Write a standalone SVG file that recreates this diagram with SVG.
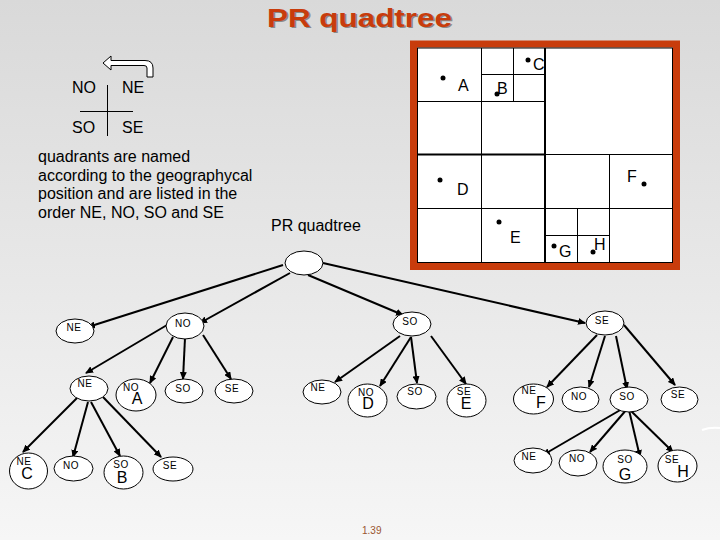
<svg xmlns="http://www.w3.org/2000/svg" width="720" height="540" viewBox="0 0 720 540">
<defs>
<linearGradient id="bg" x1="0" y1="0" x2="0" y2="1">
<stop offset="0" stop-color="#d9d9d9"/>
<stop offset="1" stop-color="#f6f6f6"/>
</linearGradient>
<marker id="ah" markerUnits="userSpaceOnUse" markerWidth="8" markerHeight="7" refX="7" refY="3.5" orient="auto">
<path d="M0,0 L8,3.5 L0,7 z" fill="#000"/>
</marker>
</defs>
<style>
text{font-family:"Liberation Sans",Arial,sans-serif;fill:#000}
.t{font-size:16px}
.s{font-size:10px;text-anchor:middle;letter-spacing:0.5px}
.b{font-size:16px;text-anchor:middle}
.pt{font-size:16px}
.n{fill:#fff;stroke:#000;stroke-width:1}
.g{stroke:#000;stroke-width:1;fill:none}
.e{stroke:#000;stroke-width:2;fill:none;marker-end:url(#ah)}
</style>
<rect x="0" y="0" width="720" height="540" fill="url(#bg)"/>

<g id="title">
<text x="268.5" y="28" font-size="25" font-weight="bold" textLength="185" lengthAdjust="spacingAndGlyphs" style="fill:#8a8a8a">PR quadtree</text>
<text x="267" y="26.5" font-size="25" font-weight="bold" textLength="185" lengthAdjust="spacingAndGlyphs" style="fill:#c83c0c">PR quadtree</text>
</g>

<g id="compass">
<path d="M103,63 L111,56 L111,60.5 L145,60.5 Q153,60.5 153,68 L153,77 L147,77 L147,68 Q147,65.5 144,65.5 L111,65.5 L111,70 Z" fill="#fff" stroke="#000" stroke-width="1"/>
<line x1="107.5" y1="85" x2="107.5" y2="136" class="g"/>
<line x1="80" y1="111.5" x2="133" y2="111.5" class="g"/>
<text class="t" x="72" y="93">NO</text>
<text class="t" x="122" y="93">NE</text>
<text class="t" x="72" y="133">SO</text>
<text class="t" x="122" y="133">SE</text>
</g>

<g id="caption">
<text class="t" x="38" y="161.5">quadrants are named</text>
<text class="t" x="38" y="180.5">according to the geographycal</text>
<text class="t" x="38" y="199">position and are listed in the</text>
<text class="t" x="38" y="217.5">order  NE, NO, SO and  SE</text>
<text class="t" x="271" y="230.5">PR quadtree</text>
</g>

<g id="space">
<rect x="413.5" y="44" width="263" height="222.5" fill="#fff" stroke="#c83c0c" stroke-width="7"/>
<rect x="417.5" y="48" width="255" height="214.5" class="g"/>
<line x1="545" y1="48" x2="545" y2="263" stroke="#000" stroke-width="2"/>
<line x1="417" y1="154.5" x2="545" y2="154.5" stroke="#000" stroke-width="2"/>
<line x1="545" y1="154.5" x2="673" y2="154.5" class="g"/>
<line x1="481.5" y1="48" x2="481.5" y2="263" class="g"/>
<line x1="417" y1="101.5" x2="545" y2="101.5" class="g"/>
<line x1="417" y1="208.5" x2="673" y2="208.5" class="g"/>
<line x1="513.5" y1="48" x2="513.5" y2="101" class="g"/>
<line x1="481" y1="74.5" x2="545" y2="74.5" class="g"/>
<line x1="609.5" y1="154" x2="609.5" y2="263" class="g"/>
<line x1="577.5" y1="208" x2="577.5" y2="263" class="g"/>
<line x1="545" y1="235.5" x2="609" y2="235.5" class="g"/>
<circle cx="443" cy="78" r="2.5"/>
<circle cx="497" cy="94" r="2.5"/>
<circle cx="528" cy="60" r="2.5"/>
<circle cx="440" cy="180" r="2.5"/>
<circle cx="499" cy="222" r="2.5"/>
<circle cx="644" cy="184" r="2.5"/>
<circle cx="554" cy="246" r="2.5"/>
<circle cx="593" cy="252" r="2.5"/>
<text class="pt" x="458" y="91">A</text>
<text class="pt" x="497" y="94">B</text>
<text class="pt" x="533" y="70">C</text>
<text class="pt" x="457" y="195">D</text>
<text class="pt" x="510" y="243">E</text>
<text class="pt" x="627" y="182">F</text>
<text class="pt" x="559" y="257">G</text>
<text class="pt" x="594" y="250">H</text>
</g>

<g id="connectors">
<line class="e" x1="283" y1="265" x2="88" y2="327"/>
<line class="e" x1="290" y1="273" x2="200" y2="323"/>
<line class="e" x1="308" y1="275" x2="403" y2="315"/>
<line class="e" x1="323" y1="263" x2="585" y2="323"/>
<line class="e" x1="167" y1="325" x2="86" y2="373"/>
<line class="e" x1="173" y1="337" x2="150" y2="383"/>
<line class="e" x1="185" y1="338" x2="183" y2="379"/>
<line class="e" x1="203" y1="335" x2="231" y2="379"/>
<line class="e" x1="77" y1="398" x2="23" y2="452"/>
<line class="e" x1="88" y1="402" x2="73" y2="457"/>
<line class="e" x1="91" y1="402" x2="120" y2="456"/>
<line class="e" x1="103" y1="397" x2="161" y2="457"/>
<line class="e" x1="400" y1="336" x2="335" y2="382"/>
<line class="e" x1="411" y1="337" x2="380" y2="386"/>
<line class="e" x1="411" y1="337" x2="417" y2="383"/>
<line class="e" x1="431" y1="336" x2="466" y2="384"/>
<line class="e" x1="597" y1="335" x2="547" y2="387"/>
<line class="e" x1="605" y1="336" x2="589" y2="387"/>
<line class="e" x1="616" y1="336" x2="627" y2="389"/>
<line class="e" x1="624" y1="325" x2="675" y2="385"/>
<line class="e" x1="622" y1="409" x2="543" y2="455"/>
<line class="e" x1="627" y1="409" x2="590" y2="452"/>
<line class="e" x1="629" y1="410" x2="640" y2="457"/>
<line class="e" x1="630" y1="410" x2="673" y2="452"/>
</g>

<g id="root"><ellipse class="n" cx="304" cy="263" rx="19" ry="12"/></g>

<g id="n-ne"><ellipse class="n" cx="75" cy="331" rx="19" ry="12"/><text class="s" x="74" y="331">NE</text></g>
<g id="n-no"><ellipse class="n" cx="185" cy="326" rx="19" ry="13"/><text class="s" x="183" y="327">NO</text></g>
<g id="n-so"><ellipse class="n" cx="412" cy="324" rx="19" ry="12"/><text class="s" x="410" y="325">SO</text></g>
<g id="n-se"><ellipse class="n" cx="605" cy="323" rx="19" ry="12"/><text class="s" x="602" y="324">SE</text></g>

<g id="no-ne"><ellipse class="n" cx="89" cy="388.5" rx="19" ry="12.5"/><text class="s" x="85" y="387">NE</text></g>
<g id="no-no"><ellipse class="n" cx="136" cy="395" rx="20" ry="16"/><text class="s" x="131" y="391">NO</text><text class="b" x="137" y="404" font-size="14">A</text></g>
<g id="no-so"><ellipse class="n" cx="184" cy="391" rx="19" ry="12"/><text class="s" x="183" y="392">SO</text></g>
<g id="no-se"><ellipse class="n" cx="234" cy="391" rx="19" ry="12"/><text class="s" x="232" y="392">SE</text></g>

<g id="ne-ne"><ellipse class="n" cx="28.5" cy="471" rx="19" ry="18"/><text class="s" x="24" y="465">NE</text><text class="b" x="27" y="479">C</text></g>
<g id="ne-no"><ellipse class="n" cx="73.5" cy="468.5" rx="19.5" ry="12.5"/><text class="s" x="71" y="469">NO</text></g>
<g id="ne-so"><ellipse class="n" cx="123.5" cy="472.5" rx="19.5" ry="16.5"/><text class="s" x="121" y="468">SO</text><text class="b" x="122" y="483" font-size="17">B</text></g>
<g id="ne-se"><ellipse class="n" cx="173" cy="469" rx="20" ry="12"/><text class="s" x="170" y="469">SE</text></g>

<g id="so-ne"><ellipse class="n" cx="322" cy="392" rx="19" ry="12"/><text class="s" x="318" y="391">NE</text></g>
<g id="so-no"><ellipse class="n" cx="367.5" cy="400.5" rx="19.5" ry="16.5"/><text class="s" x="366" y="396">NO</text><text class="b" x="368" y="409" font-size="15">D</text></g>
<g id="so-so"><ellipse class="n" cx="416.5" cy="396.5" rx="19.5" ry="12.5"/><text class="s" x="415" y="395">SO</text></g>
<g id="so-se"><ellipse class="n" cx="466.5" cy="400.5" rx="19.5" ry="16.5"/><text class="s" x="464" y="395">SE</text><text class="b" x="466" y="409" font-size="15">E</text></g>

<g id="se-ne"><ellipse class="n" cx="533.5" cy="399" rx="20" ry="15"/><text class="s" x="529" y="394" font-size="8">NE</text><text class="b" x="541" y="408" font-size="15">F</text></g>
<g id="se-no"><ellipse class="n" cx="580.5" cy="399.5" rx="18.5" ry="12.5"/><text class="s" x="579" y="400">NO</text></g>
<g id="se-so"><ellipse class="n" cx="629" cy="399.5" rx="19" ry="12.5"/><text class="s" x="627" y="400">SO</text></g>
<g id="se-se"><ellipse class="n" cx="679.5" cy="399.5" rx="18.5" ry="12.5"/><text class="s" x="678" y="398">SE</text></g>

<g id="sso-ne"><ellipse class="n" cx="533" cy="460.5" rx="19" ry="12.5"/><text class="s" x="529" y="460">NE</text></g>
<g id="sso-no"><ellipse class="n" cx="578" cy="463" rx="19" ry="13"/><text class="s" x="577" y="462">NO</text></g>
<g id="sso-so"><ellipse class="n" cx="625" cy="466.5" rx="22" ry="16.5"/><text class="s" x="625" y="463" font-size="9">SO</text><text class="b" x="625" y="480" font-size="17">G</text></g>
<g id="sso-se"><ellipse class="n" cx="677.5" cy="466" rx="19.5" ry="16"/><text class="s" x="672" y="463" font-size="9">SE</text><text class="b" x="683" y="477" font-size="21">H</text></g>

<path d="M702,430 Q710,427 720,428" stroke="#fff" stroke-width="2" fill="none"/>
<text x="362" y="534" font-size="10" style="fill:#9a5530">1.39</text>
</svg>
